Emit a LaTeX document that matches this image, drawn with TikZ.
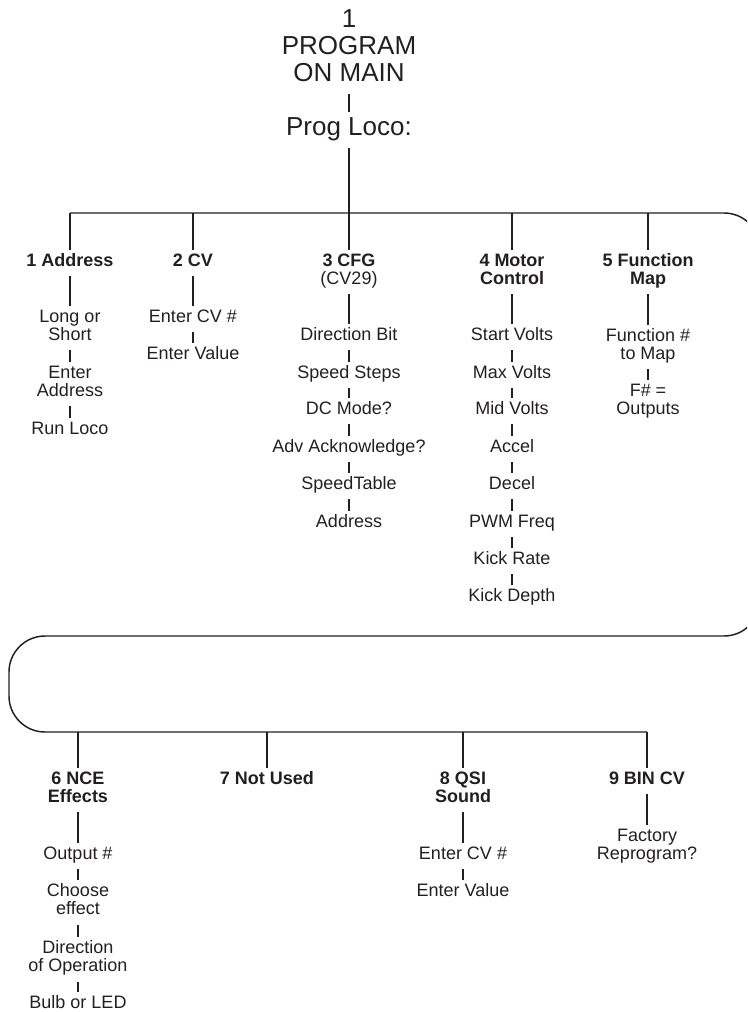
\documentclass[tikz,border=0pt]{standalone}
\usepackage{fontspec}
\setmainfont{Liberation Sans}
\usepackage{tikz}
\usetikzlibrary{positioning}
\definecolor{ink}{HTML}{231F20}

\begin{document}
\begin{tikzpicture}[x=0.75pt,y=-0.75pt,
    every node/.style={text=ink, inner xsep=2pt, inner ysep=3pt, align=center,
      execute at begin node=\strut, execute at end node=\strut},
    item/.style={font=\fontsize{13.5pt}{13.5pt}\selectfont},
    head/.style={font=\fontsize{13.5pt}{13.5pt}\selectfont\bfseries},
    big/.style={font=\fontsize{19.5pt}{20.25pt}\selectfont},
    link/.style={draw=ink, line width=1.1pt}]
  \path[use as bounding box, clip] (0,0) rectangle (747,1012);

  % top of the menu
  \node[big] (title) at (349,50) {1\\PROGRAM\\ON MAIN};
  \node[big] (prog) at (349,130) {Prog Loco:};
  \draw[link] (title) -- (prog);

  % the bus, round the loop and back
  \coordinate (b1) at (70,213);
  \coordinate (b2) at (193,213);
  \coordinate (b3) at (349,213);
  \coordinate (b4) at (512,213);
  \coordinate (b5) at (648,213);
  \coordinate (ne) at (760,213);
  \coordinate (se) at (760,636);
  \coordinate (sw) at (9,636);
  \coordinate (nw) at (9,732);
  \coordinate (b6) at (78,732);
  \coordinate (b7) at (267,732);
  \coordinate (b8) at (463,732);
  \coordinate (b9) at (647,732);
  \draw[link, rounded corners=27pt] (b1) -- (ne) -- (se) -- (sw) -- (nw) -- (b9);
  \draw[link] (prog) -- (b3);

  % 1 Address
  \node[head] (addr) at (70,263) {1 Address};
  \node[item] (a1) at (70,328) {Long or\\Short};
  \node[item] (a2) at (70,384) {Enter\\Address};
  \node[item] (a3) at (70,431) {Run Loco};
  \draw[link] (b1) -- (addr);
  \draw[link] (addr) -- (a1);
  \draw[link] (a1) -- (a2);
  \draw[link] (a2) -- (a3);

  % 2 CV
  \node[head] (cv) at (193,263) {2 CV};
  \node[item] (v1) at (193,319) {Enter CV \#};
  \node[item] (v2) at (193,356) {Enter Value};
  \draw[link] (b2) -- (cv);
  \draw[link] (cv) -- (v1);
  \draw[link] (v1) -- (v2);

  % 3 CFG
  \node[head] (cfg) at (349,272) {3 CFG\\\mdseries(CV29)};
  \node[item] (c1) at (349,337) {Direction Bit};
  \node[item] (c2) at (349,375) {Speed Steps};
  \node[item] (c3) at (349,411) {DC Mode?};
  \node[item] (c4) at (349,449) {Adv Acknowledge?};
  \node[item] (c5) at (349,486) {SpeedTable};
  \node[item] (c6) at (349,524) {Address};
  \draw[link] (b3) -- (cfg);
  \draw[link] (cfg) -- (c1);
  \draw[link] (c1) -- (c2);
  \draw[link] (c2) -- (c3);
  \draw[link] (c3) -- (c4);
  \draw[link] (c4) -- (c5);
  \draw[link] (c5) -- (c6);

  % 4 Motor Control
  \node[head] (motor) at (512,272) {4 Motor\\Control};
  \node[item] (m1) at (512,337) {Start Volts};
  \node[item] (m2) at (512,375) {Max Volts};
  \node[item] (m3) at (512,411) {Mid Volts};
  \node[item] (m4) at (512,449) {Accel};
  \node[item] (m5) at (512,486) {Decel};
  \node[item] (m6) at (512,524) {PWM Freq};
  \node[item] (m7) at (512,561) {Kick Rate};
  \node[item] (m8) at (512,598) {Kick Depth};
  \draw[link] (b4) -- (motor);
  \draw[link] (motor) -- (m1);
  \draw[link] (m1) -- (m2);
  \draw[link] (m2) -- (m3);
  \draw[link] (m3) -- (m4);
  \draw[link] (m4) -- (m5);
  \draw[link] (m5) -- (m6);
  \draw[link] (m6) -- (m7);
  \draw[link] (m7) -- (m8);

  % 5 Function Map
  \node[head] (fmap) at (648,272) {5 Function\\Map};
  \node[item] (f1) at (648,347) {Function \#\\to Map};
  \node[item] (f2) at (648,402) {F\# =\\Outputs};
  \draw[link] (b5) -- (fmap);
  \draw[link] (fmap) -- (f1);
  \draw[link] (f1) -- (f2);

  % 6 NCE Effects
  \node[head] (nce) at (78,790) {6 NCE\\Effects};
  \node[item] (e1) at (78,856) {Output \#};
  \node[item] (e2) at (78,902) {Choose\\effect};
  \node[item] (e3) at (78,959) {Direction\\of Operation};
  \node[item] (e4) at (78,1005) {Bulb or LED};
  \draw[link] (b6) -- (nce);
  \draw[link] (nce) -- (e1);
  \draw[link] (e1) -- (e2);
  \draw[link] (e2) -- (e3);
  \draw[link] (e3) -- (e4);

  % 7 Not Used
  \node[head] (unused) at (267,781) {7 Not Used};
  \draw[link] (b7) -- (unused);

  % 8 QSI Sound
  \node[head] (qsi) at (463,790) {8 QSI\\Sound};
  \node[item] (q1) at (463,856) {Enter CV \#};
  \node[item] (q2) at (463,893) {Enter Value};
  \draw[link] (b8) -- (qsi);
  \draw[link] (qsi) -- (q1);
  \draw[link] (q1) -- (q2);

  % 9 BIN CV
  \node[head] (bincv) at (647,781) {9 BIN CV};
  \node[item] (r1) at (647,847) {Factory\\Reprogram?};
  \draw[link] (b9) -- (bincv);
  \draw[link] (bincv) -- (r1);
\end{tikzpicture}
\end{document}
